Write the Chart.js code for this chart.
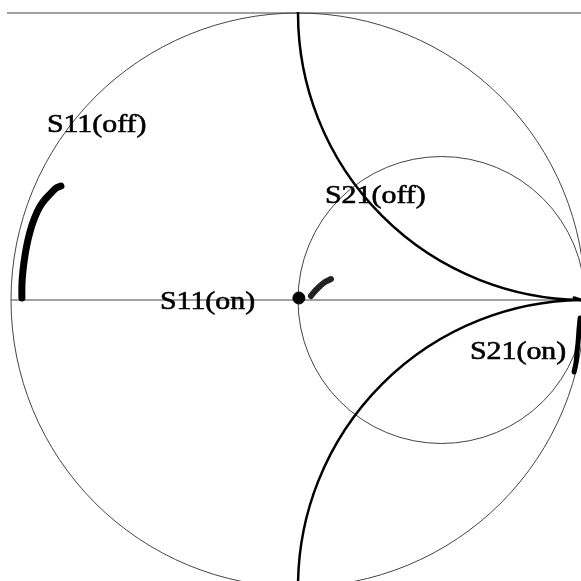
<!DOCTYPE html>
<html>
<head>
<meta charset="utf-8">
<script src="https://cdn.jsdelivr.net/npm/chart.js@4/dist/chart.umd.min.js"></script>
<style>
html,body{margin:0;padding:0;background:#fff;}
#c{display:block;}
</style>
</head>
<body>
<canvas id="c" width="581" height="581"></canvas>
<script>
// Smith chart grid (normalized resistance circles, reactance arcs)
const resistanceCircles = [0, 1];
const reactanceArcs = [1, -1];

// Reflection coefficient traces (Re, Im)
const s11OffRe = [-0.962, -0.962, -0.958, -0.951, -0.941, -0.927, -0.909, -0.889, -0.864, -0.843, -0.826];
const s11OffIm = [0.007, 0.052, 0.105, 0.157, 0.209, 0.261, 0.307, 0.341, 0.369, 0.390, 0.397];

const s11OnRe = [0.045, 0.059, 0.077, 0.094, 0.115];
const s11OnIm = [0.014, 0.031, 0.049, 0.063, 0.073];
const s11OnStartRe = [0.003];
const s11OnStartIm = [0.007];

const s21OffRe = [0.962, 0.975, 0.986];
const s21OffIm = [0.008, 0.004, 0.0];

const s21OnRe = [0.983, 0.979, 0.976, 0.972, 0.969, 0.962];
const s21OnIm = [-0.063, -0.105, -0.146, -0.181, -0.216, -0.251];

// Labels
const labelTexts = ["S11(off)", "S21(off)", "S11(on)", "S21(on)"];
const labelRe = [-0.875, 0.094, -0.481, 0.599];
const labelIm = [0.610, 0.362, -0.007, -0.181];

function pts(re, im) { return re.map((v, i) => ({x: v, y: im[i]})); }

const smithGrid = {
  id: 'smithGrid',
  beforeDatasetsDraw(chart) {
    const ctx = chart.ctx, xs = chart.scales.x, ys = chart.scales.y;
    const px = v => xs.getPixelForValue(v), py = v => ys.getPixelForValue(v);
    const pr = r => px(r) - px(0);
    ctx.save();
    ctx.strokeStyle = '#444';
    ctx.lineWidth = 1;
    // top tangent line
    ctx.beginPath(); ctx.moveTo(7, py(1)); ctx.lineTo(chart.width, py(1)); ctx.stroke();
    // real axis
    ctx.beginPath(); ctx.moveTo(px(-1), py(0)); ctx.lineTo(px(1), py(0)); ctx.stroke();
    // resistance circles
    resistanceCircles.forEach(r => {
      ctx.beginPath();
      ctx.arc(px(r / (1 + r)), py(0), pr(1 / (1 + r)), 0, Math.PI * 2);
      ctx.stroke();
    });
    // reactance arcs, clipped to unit circle
    ctx.save();
    ctx.beginPath(); ctx.arc(px(0), py(0), pr(1) + 1, 0, Math.PI * 2); ctx.clip();
    ctx.strokeStyle = '#000';
    ctx.lineWidth = 2.5;
    reactanceArcs.forEach(xv => {
      ctx.beginPath();
      ctx.arc(px(1), py(1 / xv), pr(1 / Math.abs(xv)), 0, Math.PI * 2);
      ctx.stroke();
    });
    ctx.restore();
    ctx.restore();
  },
  afterDatasetsDraw(chart) {
    const ctx = chart.ctx, xs = chart.scales.x, ys = chart.scales.y;
    ctx.save();
    ctx.fillStyle = '#000';
    ctx.strokeStyle = '#000';
    ctx.lineWidth = 0.6;
    ctx.font = '26px "Liberation Serif"';
    ctx.textBaseline = 'middle';
    labelTexts.forEach((t, i) => {
      const x = xs.getPixelForValue(labelRe[i]), y = ys.getPixelForValue(labelIm[i]);
      ctx.save();
      ctx.translate(x, y);
      ctx.scale(1.15, 1);
      ctx.fillText(t, 0, 0);
      ctx.strokeText(t, 0, 0);
      ctx.restore();
    });
    ctx.restore();
  }
};

const R = 287, cx = 298, cy = 300, W = 581;
new Chart(document.getElementById('c'), {
  type: 'scatter',
  data: {
    datasets: [
      {data: pts(s11OffRe, s11OffIm), showLine: true, borderColor: '#000', borderWidth: 7, pointRadius: 0, borderCapStyle: 'round', borderJoinStyle: 'round', tension: 0.3},
      {data: pts(s11OnRe, s11OnIm), showLine: true, borderColor: '#222', borderWidth: 6, pointRadius: 0, borderCapStyle: 'round', borderJoinStyle: 'round', tension: 0.3},
      {data: pts(s11OnStartRe, s11OnStartIm), showLine: false, pointRadius: 6, backgroundColor: '#000', borderColor: '#000'},
      {data: pts(s21OffRe, s21OffIm), showLine: true, borderColor: '#000', borderWidth: 3, pointRadius: 0, borderCapStyle: 'round'},
      {data: pts(s21OnRe, s21OnIm), showLine: true, borderColor: '#000', borderWidth: 5, pointRadius: 0, borderCapStyle: 'round', borderJoinStyle: 'round', tension: 0.3}
    ]
  },
  options: {
    responsive: false,
    animation: false,
    layout: {padding: 0, autoPadding: false},
    plugins: {legend: {display: false}, tooltip: {enabled: false}},
    scales: {
      x: {type: 'linear', display: false, min: (0 - cx) / R, max: (W - cx) / R},
      y: {type: 'linear', display: false, min: (cy - W) / R, max: cy / R}
    }
  },
  plugins: [smithGrid]
});
</script>
</body>
</html>
